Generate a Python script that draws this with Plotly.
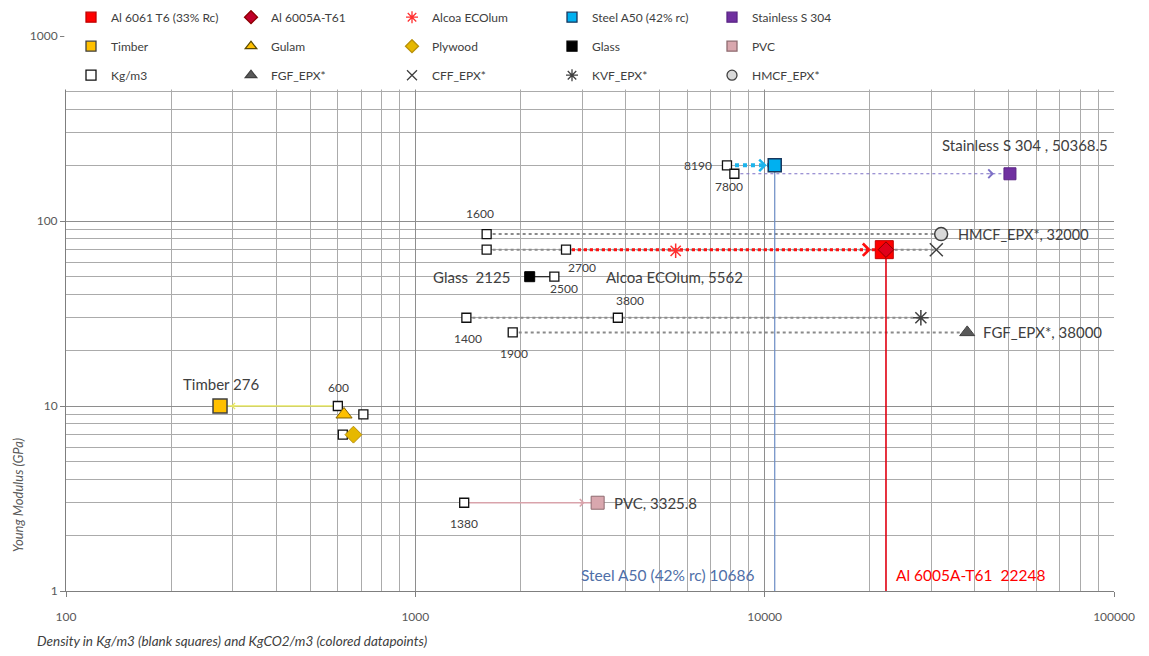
import numpy as np
import plotly.graph_objects as go

# ---------------- data (x: KgCO2/m3 or Kg/m3, y: Young modulus GPa) ----------------
al6061_x = [22000];     al6061_y = [70]
al6005_x = [22248];     al6005_y = [70]
alcoa_x = [5562];       alcoa_y = [69]
steel_x = [10686];      steel_y = [200]
stainless_x = [50368.5]; stainless_y = [180]
timber_x = [276];       timber_y = [10]
gulam_x = [625];        gulam_y = [9]
plywood_x = [665];      plywood_y = [7]
glass_x = [2125];       glass_y = [50]
pvc_x = [3325.8];       pvc_y = [3]
fgf_x = [38000];        fgf_y = [25]
cff_x = [31000];        cff_y = [70]
kvf_x = [28000];        kvf_y = [30]
hmcf_x = [32000];       hmcf_y = [85]

# blank squares: density in Kg/m3
dens_x = [1600, 1600, 2700, 2500, 1400, 3800, 1900, 7800, 8190, 600, 710, 620, 1380]
dens_y = [85, 70, 70, 50, 30, 30, 25, 200, 180, 10, 9, 7, 3]
dens_lbl = ["1600", "", "2700", "2500", "1400", "3800", "1900", "8190", "7800", "600", "", "", "1380"]

x_ticks = [100, 1000, 10000, 100000]
y_ticks = [1, 10, 100, 1000]

# ---------------- styles ----------------
FONT = "Lato"
GRID_MAJ = "#8e8e8e"
GRID_MIN = "#ababab"
TXT = "#404040"

dens_lbl_shift = [(-7, 21), (0, 0), (16, -18), (10, -12), (2, -21), (12, 17), (1, -21),
                  (-29, 0), (-5, -13), (1, 19), (0, 0), (0, 0), (0, -21)]

fig = go.Figure()

# connectors: (x_from, x_to, y, color, width, dash, arrow_standoff, arrow_w, arrow_size)
connectors = [
    (dens_x[0], hmcf_x[0], hmcf_y[0], "#8a8a8a", 2, "dot", None, 0, 0),
    (dens_x[1], cff_x[0], cff_y[0], "#8a8a8a", 2, "dot", None, 0, 0),
    (dens_x[2], al6005_x[0], al6005_y[0], "#FF1010", 3, "dot", 15, 2.4, 1.0),
    (dens_x[4], kvf_x[0], kvf_y[0], "#8a8a8a", 2, "dot", None, 0, 0),
    (dens_x[6], fgf_x[0], fgf_y[0], "#8a8a8a", 2, "dot", None, 0, 0),
    (dens_x[7], steel_x[0], steel_y[0], "#1BB4EC", 4, "dot", 8, 2.6, 0.85),
    (dens_x[8], stainless_x[0], stainless_y[0], "#7d70c6", 1.2, "dot", 16, 1.2, 1.4),
    (dens_x[9], timber_x[0], timber_y[0], "#E8E860", 1.5, "solid", 11, 1.2, 1.0),
    (dens_x[3], glass_x[0], glass_y[0], "#202020", 1.2, "solid", None, 0, 0),
    (dens_x[12], pvc_x[0], pvc_y[0], "#D9A3AB", 1.5, "solid", 13, 1.3, 1.1),
]
for (xa, xb, yy, col, w, dash, so, aw, asz) in connectors:
    fig.add_trace(go.Scatter(x=[xa, xb], y=[yy, yy], mode="lines", showlegend=False,
                             hoverinfo="skip", line=dict(color=col, width=w, dash=dash)))

# vertical drop lines
fig.add_trace(go.Scatter(x=[steel_x[0], steel_x[0]], y=[steel_y[0], y_ticks[0]], mode="lines",
                         showlegend=False, line=dict(color="#6a8cc4", width=1.2)))
fig.add_trace(go.Scatter(x=[al6005_x[0], al6005_x[0]], y=[al6005_y[0], y_ticks[0]], mode="lines",
                         showlegend=False, line=dict(color="#E00010", width=1.6)))

# blank squares
fig.add_trace(go.Scatter(x=dens_x, y=dens_y, mode="markers", showlegend=False,
                         marker=dict(symbol="square", size=9, color="white",
                                     line=dict(color="#101010", width=1.3))))

# colored points
points = [
    (al6061_x, al6061_y, "square", 18, "#FF0000", "#C00000", 1),
    (al6005_x, al6005_y, "diamond", 12, "#E0001A", "#8B0000", 1),
    (alcoa_x, alcoa_y, "asterisk-open", 12, "#FF3030", "#FF3030", 1.5),
    (steel_x, steel_y, "square", 13, "#00B0F0", "#17375E", 1.5),
    (stainless_x, stainless_y, "square", 12, "#7030A0", "#5a2585", 1),
    (timber_x, timber_y, "square", 14, "#FFC000", "#404040", 1.5),
    (gulam_x, gulam_y, "triangle-up", 14, "#FFC000", "#7F6000", 1),
    (plywood_x, plywood_y, "diamond", 13, "#E6B800", "#B8900A", 1),
    (glass_x, glass_y, "square", 10, "#000000", "#000000", 1),
    (pvc_x, pvc_y, "square", 13, "#D9A7AE", "#8E6B70", 1),
    (fgf_x, fgf_y, "triangle-up", 13, "#595959", "#404040", 1),
    (cff_x, cff_y, "x-thin-open", 13, "#404040", "#404040", 1.5),
    (kvf_x, kvf_y, "asterisk-open", 13, "#404040", "#404040", 1.5),
    (hmcf_x, hmcf_y, "circle", 13, "#D9D9D9", "#404040", 1.5),
]
for (px, py, sym, sz, fc, lc, lw) in points:
    fig.add_trace(go.Scatter(x=px, y=py, mode="markers", showlegend=False,
                             marker=dict(symbol=sym, size=sz, color=fc, line=dict(color=lc, width=lw))))

# legend-only entries, 5 columns
legend_cols = [
    [("Al 6061 T6 (33% Rc)", "square", "#FF0000", "#C00000"),
     ("Timber", "square", "#FFC000", "#404040"),
     ("Kg/m3", "square", "white", "#101010")],
    [("Al 6005A-T61", "diamond", "#C0002A", "#8B0000"),
     ("Gulam", "triangle-up", "#FFC000", "#5a4a00"),
     ("FGF_EPX*", "triangle-up", "#595959", "#404040")],
    [("Alcoa ECOlum", "asterisk-open", "#FF3030", "#FF3030"),
     ("Plywood", "diamond", "#E6B800", "#B8900A"),
     ("CFF_EPX*", "x-thin-open", "#404040", "#404040")],
    [("Steel A50 (42% rc)", "square", "#00B0F0", "#17375E"),
     ("Glass", "square", "#000000", "#000000"),
     ("KVF_EPX*", "asterisk-open", "#404040", "#404040")],
    [("Stainless S 304", "square", "#7030A0", "#5a2585"),
     ("PVC", "square", "#D9A7AE", "#8E6B70"),
     ("HMCF_EPX*", "circle", "#D9D9D9", "#404040")],
]
# page x of each legend column's left edge
legend_left_px = [81, 241, 402, 562, 722]
for ci, col in enumerate(legend_cols):
    lid = "legend" if ci == 0 else f"legend{ci+1}"
    for ri, (name, sym, fc, lc) in enumerate(col):
        fig.add_trace(go.Scatter(x=[None], y=[None], mode="markers", name=name, legend=lid,
                                 legendgroup=f"g{ci}_{ri}",
                                 marker=dict(symbol=sym, size=10, color=fc,
                                             line=dict(color=lc, width=1.3))))

# ---------------- annotations ----------------
ann = []
for (xa, xb, yy, col, w, dash, so, aw, asz) in connectors:
    if so is None:
        continue
    direction = 1 if xb > xa else -1
    ann.append(dict(x=np.log10(xb), y=np.log10(yy), xref="x", yref="y", text="",
                    showarrow=True, arrowhead=4, arrowcolor=col, arrowwidth=aw, arrowsize=asz,
                    ax=-6 * direction, ay=0, xshift=-so * direction))

for i, t in enumerate(dens_lbl):
    if not t:
        continue
    xs, ys = dens_lbl_shift[i]
    ann.append(dict(x=np.log10(dens_x[i]), y=np.log10(dens_y[i]), xref="x", yref="y", text=t,
                    showarrow=False, xshift=xs, yshift=ys,
                    font=dict(family=FONT, size=12, color=TXT)))

txt_labels = [
    ("Stainless S 304 , 50368.5", stainless_x[0], stainless_y[0], "center", 15, 29, TXT, 15),
    ("HMCF_EPX*, 32000", hmcf_x[0], hmcf_y[0], "left", 15, 0, TXT, 14.5),
    ("FGF_EPX*, 38000", fgf_x[0], fgf_y[0], "left", 14, 0, TXT, 15),
    ("Alcoa ECOlum, 5562", alcoa_x[0], alcoa_y[0], "center", -1, -26, TXT, 15),
    ("Glass  2125", glass_x[0], glass_y[0], "right", -18, 0, TXT, 15),
    ("Timber 276", timber_x[0], timber_y[0], "center", 1, 22, TXT, 15),
    ("PVC, 3325.8", pvc_x[0], pvc_y[0], "left", 14, 0, TXT, 15),
    ("Steel A50 (42% rc) 10686", steel_x[0], y_ticks[0], "right", -18, 16, "#4F6FA8", 15.5),
    ("Al 6005A-T61  22248", al6005_x[0], y_ticks[0], "left", 8, 16, "#FF0000", 15.5),
]
for (t, xv, yv, xa, xs, ys, c, fs) in txt_labels:
    ann.append(dict(x=np.log10(xv), y=np.log10(yv), xref="x", yref="y", text=t, showarrow=False,
                    xanchor=xa, xshift=xs, yshift=ys, font=dict(family=FONT, size=fs, color=c)))

# axis titles
ann.append(dict(text="Young Modulus (GPa)", xref="paper", yref="paper", x=-0.046, y=0.172,
                textangle=-90, showarrow=False, xanchor="center", yanchor="middle",
                font=dict(family=FONT, size=13, color="#595959", style="italic")))
ann.append(dict(text="Density in Kg/m3 (blank squares) and KgCO2/m3 (colored datapoints)",
                xref="paper", yref="paper", x=-0.03, y=-0.09, xanchor="left", yanchor="middle",
                showarrow=False, font=dict(family=FONT, size=13.5, color="#404040", style="italic")))

# white cover over the top of the plot (area behind the legend)
y500 = np.log10(500) / 3
shapes = [dict(type="rect", xref="paper", yref="paper", x0=-0.0016, x1=1.003, y0=y500 + 0.004,
               y1=1.02, fillcolor="white", line=dict(width=0), layer="above")]

PLOT_LEFT_PAGE = 66
PLOT_W = 1048
legend_common = dict(orientation="v", xanchor="left", yanchor="top", y=1.06, bgcolor="rgba(0,0,0,0)",
                     traceorder="grouped", tracegroupgap=10, indentation=-10,
                     font=dict(family=FONT, size=12, color=TXT))
legends = {}
for ci, lp in enumerate(legend_left_px):
    lid = "legend" if ci == 0 else f"legend{ci+1}"
    d = dict(legend_common)
    d["x"] = (lp - PLOT_LEFT_PAGE) / PLOT_W
    legends[lid] = d

axis_common = dict(type="log", showgrid=True, gridcolor=GRID_MAJ, gridwidth=1,
                   minor=dict(dtick="D1", showgrid=True, gridcolor=GRID_MIN, gridwidth=1, ticks=""),
                   ticks="outside", ticklen=5, tickcolor="#7f7f7f", showline=True, linecolor="#7f7f7f",
                   linewidth=1, zeroline=False, exponentformat="none",
                   tickfont=dict(family=FONT, size=12, color="#595959"))

# page has an 8px body margin; figure sized so the plot area lands at x 66..1114, y 36..591
fig.update_layout(
    width=1141, height=648,
    margin=dict(l=58, r=35, t=28, b=65, autoexpand=False),
    paper_bgcolor="white", plot_bgcolor="white",
    annotations=ann, shapes=shapes,
    **legends,
)
fig.update_xaxes(range=[2, 5], tickvals=x_ticks, ticktext=[str(v) for v in x_ticks],
                 ticklabelstandoff=10, **axis_common)
fig.update_yaxes(range=[0, 3], tickvals=y_ticks, ticktext=[str(v) for v in y_ticks], **axis_common)

fig.write_html("out.html")
